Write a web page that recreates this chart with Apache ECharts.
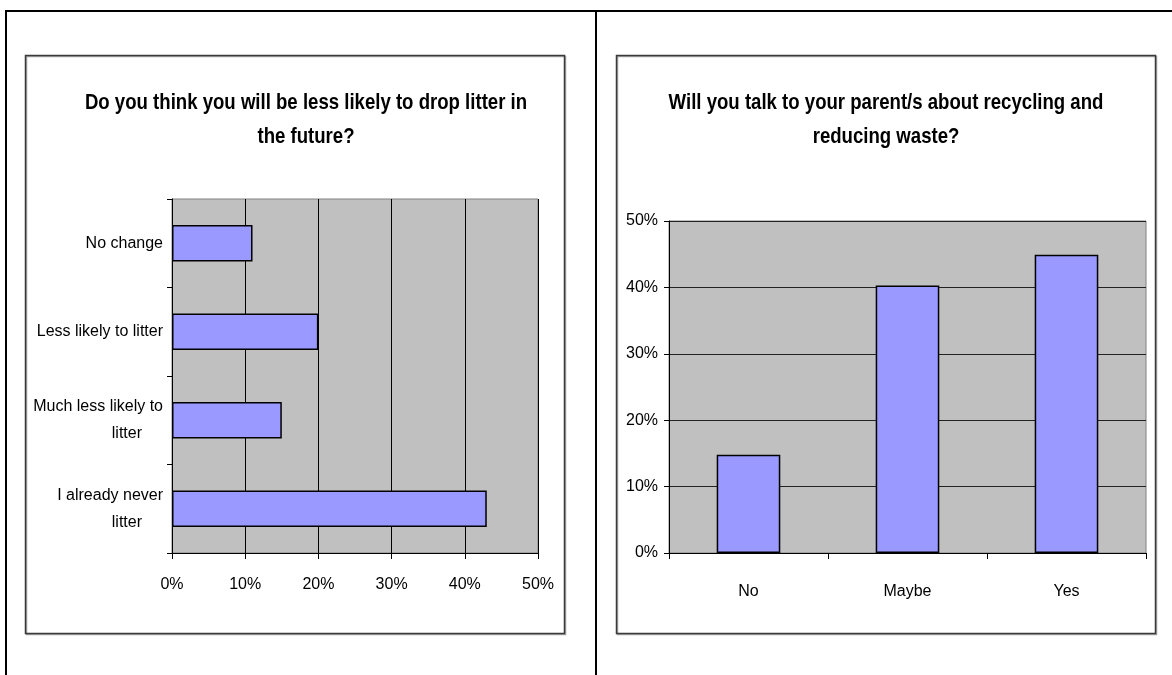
<!DOCTYPE html>
<html>
<head>
<meta charset="utf-8">
<script src="https://cdn.jsdelivr.net/npm/echarts@6/dist/echarts.min.js"></script>
<style>
  html, body { margin: 0; padding: 0; background: #fff; }
  #chart { width: 1172px; height: 675px; }
</style>
</head>
<body>
<div id="chart"></div>
<script>
// Survey question 1: littering habits (share of pupils)
const litterCategories = ['No change', 'Less likely to litter', 'Much less likely to\nlitter', 'I already never\nlitter'];
const litterValues = [11, 20, 15, 43];
const litterTitle = 'Do you think you will be less likely to drop litter in\nthe future?';

// Survey question 2: talking to parents (share of pupils)
const talkCategories = ['No', 'Maybe', 'Yes'];
const talkValues = [14.8, 40.3, 44.9];
const talkTitle = 'Will you talk to your parent/s about recycling and\nreducing waste?';

// Percentage axis range
const pctMin = 0, pctMax = 50, pctStep = 10;

const FONT = '"Liberation Sans Narrow", "Arial Narrow", "Liberation Sans", Arial, sans-serif';
const BAR_FILL = '#9999FF';
const PLOT_BG = '#C0C0C0';

const chart = echarts.init(document.getElementById('chart'), null, { renderer: 'canvas' });

// wrapped category names: second line sits under the first, inset from the axis
function twoLineLabel(v) {
  const parts = v.split('\n');
  if (parts.length === 1) return parts[0];
  return parts[0] + '\n{tail|' + parts[1] + '}';
}

const labelText = { color: '#000', fontFamily: FONT, fontSize: 16 };

// bold, slightly tall chart heading centred on (x, 120)
function titleText(x, text) {
  return {
    type: 'text', x: x, y: 120, scaleY: 1.18, originX: 0, originY: 0,
    style: { text: text, textAlign: 'center', textVerticalAlign: 'middle',
      font: 'bold 18.6px ' + FONT, lineHeight: 29, fill: '#000' }
  };
}

chart.setOption({
  animation: false,
  backgroundColor: '#fff',
  graphic: [
    // page frame lines
    { type: 'line', shape: { x1: 5, y1: 11, x2: 1172, y2: 11 }, style: { stroke: '#000', lineWidth: 2 } },
    { type: 'line', shape: { x1: 6, y1: 10, x2: 6, y2: 675 }, style: { stroke: '#000', lineWidth: 2 } },
    { type: 'line', shape: { x1: 596, y1: 10, x2: 596, y2: 675 }, style: { stroke: '#000', lineWidth: 2 } },
    // chart area boxes
    { type: 'rect', shape: { x: 25.5, y: 55.5, width: 539, height: 578 },
      style: { fill: 'none', stroke: '#3a3a3a', lineWidth: 1.5, shadowColor: 'rgba(0,0,0,0.35)', shadowOffsetX: 1, shadowOffsetY: 1 }, z: 0 },
    { type: 'rect', shape: { x: 616.5, y: 55.5, width: 539, height: 578 },
      style: { fill: 'none', stroke: '#3a3a3a', lineWidth: 1.5, shadowColor: 'rgba(0,0,0,0.35)', shadowOffsetX: 1, shadowOffsetY: 1 }, z: 0 },
    // chart titles
    titleText(306, litterTitle),
    titleText(886, talkTitle)
  ],
  grid: [
    { left: 172, top: 199, width: 366, height: 354, show: true, backgroundColor: PLOT_BG, borderColor: '#808080', borderWidth: 1 },
    { left: 669, top: 221, width: 477, height: 332, show: true, backgroundColor: PLOT_BG, borderColor: '#808080', borderWidth: 1 }
  ],
  xAxis: [
    { type: 'value', gridIndex: 0, min: pctMin, max: pctMax, interval: pctStep,
      axisLine: { show: true, lineStyle: { color: '#000', width: 1 } },
      axisTick: { show: true, length: 6, lineStyle: { color: '#000' } },
      axisLabel: Object.assign({ formatter: '{value}%', margin: 24 }, labelText),
      splitLine: { show: true, lineStyle: { color: '#000', width: 1 } } },
    { type: 'category', gridIndex: 1, data: talkCategories, boundaryGap: true,
      axisLine: { show: true, lineStyle: { color: '#000', width: 1 } },
      axisTick: { show: true, length: 6, alignWithLabel: false, lineStyle: { color: '#000' } },
      axisLabel: Object.assign({ margin: 31 }, labelText),
      splitLine: { show: false } }
  ],
  yAxis: [
    { type: 'category', gridIndex: 0, data: litterCategories, inverse: true, boundaryGap: true,
      axisLine: { show: true, lineStyle: { color: '#000', width: 1 } },
      axisTick: { show: true, length: 5, alignWithLabel: false, lineStyle: { color: '#000' } },
      axisLabel: Object.assign({ margin: 9, align: 'right', lineHeight: 27, formatter: twoLineLabel,
        rich: { tail: { fontFamily: FONT, fontSize: 16, color: '#000', padding: [0, 21, 0, 0], lineHeight: 27 } } }, labelText),
      splitLine: { show: false } },
    { type: 'value', gridIndex: 1, min: pctMin, max: pctMax, interval: pctStep,
      axisLine: { show: true, lineStyle: { color: '#000', width: 1 } },
      axisTick: { show: true, length: 5, lineStyle: { color: '#000' } },
      axisLabel: Object.assign({ formatter: '{value}%', margin: 11 }, labelText),
      splitLine: { show: true, lineStyle: { color: '#222', width: 1 } } }
  ],
  series: [
    { type: 'bar', xAxisIndex: 0, yAxisIndex: 0, data: litterValues, barWidth: '41%',
      itemStyle: { color: BAR_FILL, borderColor: '#000', borderWidth: 1.5 } },
    { type: 'bar', xAxisIndex: 1, yAxisIndex: 1, data: talkValues, barWidth: '40%',
      itemStyle: { color: BAR_FILL, borderColor: '#000', borderWidth: 1.5 } }
  ]
});
</script>
</body>
</html>
